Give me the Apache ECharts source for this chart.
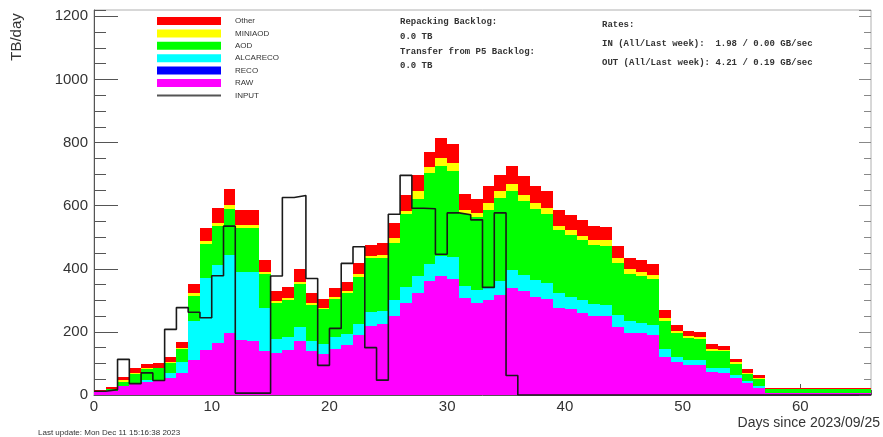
<!DOCTYPE html>
<html>
<head>
<meta charset="utf-8">
<script src="https://cdn.jsdelivr.net/npm/echarts@6/dist/echarts.min.js"></script>
<style>
  html, body { margin: 0; padding: 0; background: #ffffff; }
  #chart { width: 883px; height: 437px; }
</style>
</head>
<body>
<div id="chart"></div>
<script>
// Daily transfer volume (TB/day) per data tier, one bin per day since 2023/09/25
const dayBins = [0, 1, 2, 3, 4, 5, 6, 7, 8, 9, 10, 11, 12, 13, 14, 15, 16, 17, 18, 19,
  20, 21, 22, 23, 24, 25, 26, 27, 28, 29, 30, 31, 32, 33, 34, 35, 36, 37, 38, 39,
  40, 41, 42, 43, 44, 45, 46, 47, 48, 49, 50, 51, 52, 53, 54, 55, 56, 57, 58, 59,
  60, 61, 62, 63, 64, 65];

const raw = [8, 12, 27, 37, 42, 47, 54, 70, 110, 144, 166, 195, 175, 172, 140, 134, 142, 171, 140, 131,
  147, 158, 189, 219, 224, 249, 291, 323, 360, 376, 368, 307, 291, 302, 317, 339, 328, 312, 304, 277,
  272, 259, 251, 249, 215, 198, 196, 190, 122, 103, 95, 95, 72, 71, 53, 37, 21, 5, 5, 5,
  5, 5, 5, 5, 5, 5];

const reco = [0, 0, 0, 0, 0, 0, 0, 0, 0, 0, 0, 0, 0, 0, 0, 0, 0, 0, 0, 0,
  0, 0, 0, 0, 0, 0, 0, 0, 0, 0, 0, 0, 0, 0, 0, 0, 0, 0, 0, 0,
  0, 0, 0, 0, 0, 0, 0, 0, 0, 0, 0, 0, 0, 0, 0, 0, 0, 0, 0, 0,
  0, 0, 0, 0, 0, 0];

const alcareco = [0, 0, 2, 2, 5, 2, 16, 35, 125, 228, 246, 248, 216, 219, 135, 45, 42, 43, 31, 32,
  37, 35, 37, 45, 41, 53, 50, 53, 55, 63, 68, 37, 42, 37, 43, 56, 53, 51, 50, 46,
  40, 43, 38, 37, 39, 35, 32, 32, 23, 17, 16, 16, 15, 14, 10, 8, 8, 0, 0, 0,
  0, 0, 0, 0, 0, 0];

const aod = [4, 6, 13, 29, 36, 35, 32, 40, 80, 108, 125, 147, 138, 138, 109, 111, 116, 139, 114, 108,
  120, 129, 149, 169, 169, 179, 232, 246, 289, 286, 273, 229, 230, 248, 264, 250, 233, 226, 220, 199,
  196, 188, 187, 187, 164, 151, 150, 145, 91, 76, 69, 68, 54, 53, 35, 22, 21, 13, 13, 13,
  13, 13, 13, 13, 13, 13];

const miniaod = [1, 2, 5, 2, 3, 3, 3, 4, 7, 8, 9, 12, 11, 11, 7, 8, 6, 6, 7, 5,
  7, 7, 10, 7, 10, 18, 11, 23, 18, 26, 26, 14, 14, 21, 21, 24, 21, 19, 18, 14,
  16, 15, 16, 17, 16, 15, 13, 14, 7, 8, 7, 6, 6, 5, 5, 4, 4, 1, 1, 1,
  1, 1, 1, 1, 1, 1];

const other = [4, 5, 10, 14, 13, 15, 16, 19, 29, 40, 45, 51, 47, 45, 37, 31, 37, 39, 30, 28,
  27, 30, 32, 35, 37, 46, 51, 53, 48, 64, 61, 50, 45, 53, 51, 56, 58, 55, 53, 49,
  47, 48, 44, 42, 37, 35, 37, 35, 25, 17, 17, 16, 14, 13, 11, 10, 9, 2, 2, 2,
  2, 2, 2, 2, 2, 2];

const input = [12, 17, 113, 36, 70, 46, 208, 277, 262, 245, 378, 535, 6, 6, 6, 377, 626, 632, 369, 94,
  211, 417, 470, 150, 47, 573, 696, 592, 590, 446, 577, 571, 555, 341, 577, 62, 0, 0, 0, 0,
  0, 0, 0, 0, 0, 0, 0, 0, 0, 0, 0, 0, 0, 0, 0, 0, 0, 0, 0, 0,
  0, 0, 0, 0, 0, 0];

const legendOrder = ['Other', 'MINIAOD', 'AOD', 'ALCARECO', 'RECO', 'RAW', 'INPUT'];

const X_MAX = 66;
const Y_MAX = 1220;
const BIN_WIDTH = 1;
const SANS = 'Liberation Sans, Arial, Helvetica, sans-serif';
const MONO = 'Liberation Mono, Courier New, monospace';
const AXIS_GRAY = '#555555';
const INPUT_COLOR = '#1a1a1a';

// Stacked layers, drawn bottom to top
const layers = [
  { name: 'RAW', values: raw, color: '#ff00ff' },
  { name: 'RECO', values: reco, color: '#0000ff' },
  { name: 'ALCARECO', values: alcareco, color: '#00ffff' },
  { name: 'AOD', values: aod, color: '#00ff00' },
  { name: 'MINIAOD', values: miniaod, color: '#ffff00' },
  { name: 'Other', values: other, color: '#ff0000' }
];

// One rectangle per day bin, from the running stack base to its top
function renderBin(params, api) {
  const lo = api.value(1);
  const hi = api.value(2);
  if (!(hi > lo)) return null;
  const x0 = api.value(0);
  const a = api.coord([x0, lo]);
  const b = api.coord([x0 + BIN_WIDTH, hi]);
  const left = Math.round(a[0]);
  const right = Math.round(b[0]);
  const bottom = Math.round(a[1]);
  const top = Math.round(b[1]);
  if (bottom - top <= 0) return null;
  return {
    type: 'rect',
    shape: { x: left, y: top, width: right - left, height: bottom - top },
    style: { fill: api.visual('color') }
  };
}

const stackBase = dayBins.map(() => 0);
const stackSeries = layers.map(layer => {
  const data = dayBins.map((d, i) => {
    const lo = stackBase[i];
    const hi = lo + layer.values[i];
    stackBase[i] = hi;
    return [d, lo, hi];
  });
  return {
    type: 'custom',
    name: layer.name,
    xAxisIndex: 0,
    yAxisIndex: 0,
    renderItem: renderBin,
    encode: { x: 0, y: [1, 2] },
    data: data,
    itemStyle: { color: layer.color },
    silent: true,
    animation: false,
    z: 2
  };
});

// Histogram outline of the input rate
const inputData = dayBins.map((d, i) => [d, input[i]]);
inputData.push([X_MAX, input[input.length - 1]]);
const inputSeries = {
  type: 'line',
  name: 'INPUT',
  xAxisIndex: 0,
  yAxisIndex: 0,
  data: inputData,
  step: 'end',
  symbol: 'none',
  showSymbol: false,
  lineStyle: { color: INPUT_COLOR, width: 1.6 },
  itemStyle: { color: INPUT_COLOR },
  silent: true,
  animation: false,
  z: 10
};

const tickOnlyAxis = {
  type: 'value',
  min: 0,
  axisLine: { show: false },
  axisLabel: { show: false },
  splitLine: { show: false }
};

const plainNumber = v => String(v);

const option = {
  backgroundColor: '#ffffff',
  animation: false,
  grid: {
    left: 94, right: 12, top: 10, bottom: 42,
    show: true, borderColor: '#b0b0b0', borderWidth: 1, backgroundColor: 'transparent'
  },
  legend: {
    orient: 'vertical',
    left: 157,
    top: 17,
    padding: 0,
    itemWidth: 64,
    itemHeight: 8,
    itemGap: 4.4,
    selectedMode: false,
    symbolKeepAspect: true,
    textStyle: { fontSize: 8, color: '#333333', fontFamily: SANS, padding: [0, 0, 0, 9] },
    data: legendOrder.map(n => n === 'INPUT'
      ? { name: n, icon: 'path://M0,0H64V2H0Z', itemStyle: { color: '#555555' } }
      : { name: n, icon: 'rect' })
  },
  xAxis: [
    {
      type: 'value', min: 0, max: X_MAX, interval: 10, position: 'bottom',
      axisLine: { show: true, lineStyle: { color: AXIS_GRAY, width: 1 } },
      axisTick: { show: true, inside: true, length: 11, lineStyle: { color: AXIS_GRAY } },
      axisLabel: { fontSize: 15, color: '#333333', fontFamily: SANS, margin: 4, showMaxLabel: false, formatter: plainNumber },
      splitLine: { show: false },
      name: 'Days since 2023/09/25',
      nameLocation: 'end',
      nameGap: 9,
      nameTextStyle: {
        fontSize: 14, color: '#333333', fontFamily: SANS,
        align: 'right', verticalAlign: 'top', padding: [21, 0, 0, 0]
      }
    },
    Object.assign({}, tickOnlyAxis, {
      max: X_MAX, interval: 2, position: 'bottom',
      axisTick: { show: true, inside: true, length: 5, lineStyle: { color: AXIS_GRAY } }
    })
  ],
  yAxis: [
    {
      type: 'value', min: 0, max: Y_MAX, interval: 200, position: 'left',
      axisLine: { show: true, lineStyle: { color: AXIS_GRAY, width: 1 } },
      axisTick: { show: true, inside: true, length: 24, lineStyle: { color: AXIS_GRAY } },
      axisLabel: { fontSize: 15, color: '#333333', fontFamily: SANS, margin: 6, showMaxLabel: false, formatter: plainNumber },
      splitLine: { show: false }
    },
    Object.assign({}, tickOnlyAxis, {
      max: Y_MAX, interval: 50, position: 'left',
      axisTick: { show: true, inside: true, length: 12, lineStyle: { color: AXIS_GRAY } }
    }),
    Object.assign({}, tickOnlyAxis, {
      max: Y_MAX, interval: 200, position: 'right',
      axisTick: { show: true, inside: true, length: 12, lineStyle: { color: '#888888' } }
    }),
    Object.assign({}, tickOnlyAxis, {
      max: Y_MAX, interval: 50, position: 'right',
      axisTick: { show: true, inside: true, length: 7, lineStyle: { color: '#888888' } }
    })
  ],
  graphic: [
    {
      type: 'text', x: 17, y: 37, rotation: Math.PI / 2,
      style: { text: 'TB/day', font: '15px ' + SANS, fill: '#333333', textAlign: 'center', textVerticalAlign: 'middle' }
    },
    {
      type: 'text', x: 400, y: 22,
      style: { text: 'Repacking Backlog:', font: 'bold 9px ' + MONO, fill: '#333333', textVerticalAlign: 'middle' }
    },
    {
      type: 'text', x: 400, y: 37,
      style: { text: '0.0 TB', font: 'bold 9px ' + MONO, fill: '#333333', textVerticalAlign: 'middle' }
    },
    {
      type: 'text', x: 400, y: 52,
      style: { text: 'Transfer from P5 Backlog:', font: 'bold 9px ' + MONO, fill: '#333333', textVerticalAlign: 'middle' }
    },
    {
      type: 'text', x: 400, y: 66,
      style: { text: '0.0 TB', font: 'bold 9px ' + MONO, fill: '#333333', textVerticalAlign: 'middle' }
    },
    {
      type: 'text', x: 602, y: 25,
      style: { text: 'Rates:', font: 'bold 9px ' + MONO, fill: '#333333', textVerticalAlign: 'middle' }
    },
    {
      type: 'text', x: 602, y: 44,
      style: { text: 'IN (All/Last week):  1.98 / 0.00 GB/sec', font: 'bold 9px ' + MONO, fill: '#333333', textVerticalAlign: 'middle' }
    },
    {
      type: 'text', x: 602, y: 63,
      style: { text: 'OUT (All/Last week): 4.21 / 0.19 GB/sec', font: 'bold 9px ' + MONO, fill: '#333333', textVerticalAlign: 'middle' }
    },
    {
      type: 'text', x: 38, y: 433,
      style: { text: 'Last update: Mon Dec 11 15:16:38 2023', font: '8px ' + SANS, fill: '#333333', textVerticalAlign: 'middle' }
    }
  ],
  series: stackSeries.concat([inputSeries])
};

const chart = echarts.init(document.getElementById('chart'), null, { renderer: 'canvas' });
chart.setOption(option);
</script>
</body>
</html>
